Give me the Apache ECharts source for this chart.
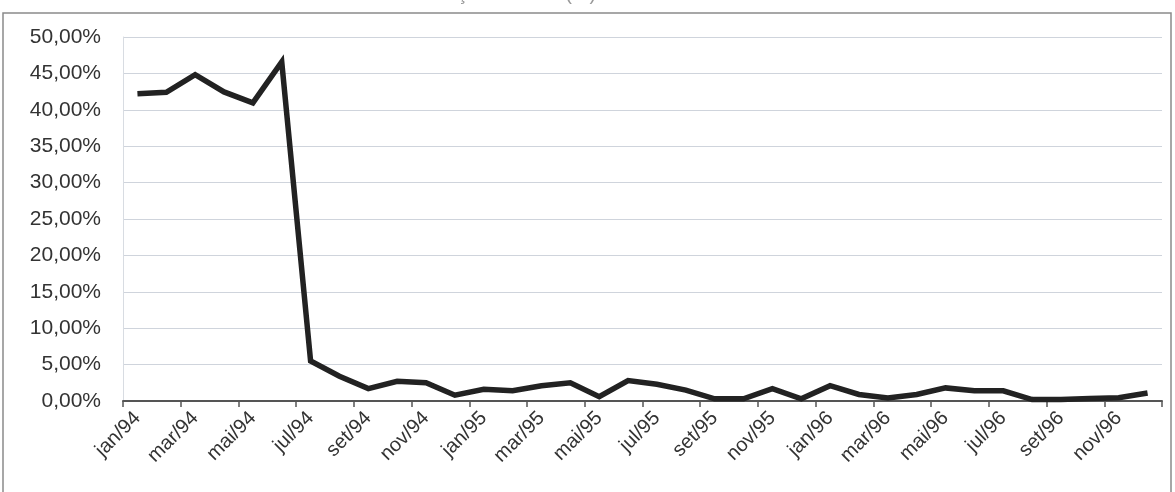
<!DOCTYPE html>
<html>
<head>
<meta charset="utf-8">
<script src="https://cdn.jsdelivr.net/npm/echarts@6/dist/echarts.min.js"></script>
<style>
  html, body { margin: 0; padding: 0; background: #fff; }
  #chart { width: 1175px; height: 492px; }
</style>
</head>
<body>
<div id="chart"></div>
<script>
// Monthly rate, jan/94 – dez/96
const months = [
  'jan/94','fev/94','mar/94','abr/94','mai/94','jun/94','jul/94','ago/94','set/94','out/94','nov/94','dez/94',
  'jan/95','fev/95','mar/95','abr/95','mai/95','jun/95','jul/95','ago/95','set/95','out/95','nov/95','dez/95',
  'jan/96','fev/96','mar/96','abr/96','mai/96','jun/96','jul/96','ago/96','set/96','out/96','nov/96','dez/96'
];
const rate94 = [42.19, 42.41, 44.83, 42.46, 40.95, 46.58, 5.5, 3.4, 1.7, 2.7, 2.5, 0.8];
const rate95 = [1.6, 1.4, 2.1, 2.5, 0.6, 2.8, 2.3, 1.5, 0.3, 0.3, 1.7, 0.3];
const rate96 = [2.1, 0.9, 0.4, 0.9, 1.8, 1.4, 1.4, 0.2, 0.2, 0.35, 0.45, 1.1];
const yTicks = { min: 0, max: 50, step: 5 };
const titleText = 'Taxa de inflação mensal (%)';

const values = rate94.concat(rate95, rate96);

const chart = echarts.init(document.getElementById('chart'), null, { renderer: 'canvas' });
const font = 'Liberation Sans, Arial, sans-serif';

chart.setOption({
  animation: false,
  backgroundColor: '#ffffff',
  graphic: [
    {
      type: 'rect',
      shape: { x: 3, y: 13, width: 1168, height: 490 },
      style: { fill: 'none', stroke: '#8a8a8a', lineWidth: 1.5 },
      silent: true
    },
    {
      type: 'text',
      left: 345, top: -16,
      style: { text: titleText, font: '20px ' + font, fill: '#999' },
      silent: true
    }
  ],
  grid: { left: 123, right: 13, top: 37, bottom: 91, containLabel: false },
  xAxis: {
    type: 'category',
    data: months,
    boundaryGap: true,
    axisLine: { show: true, lineStyle: { color: '#555', width: 2 } },
    axisTick: { show: true, interval: 1, length: 6, lineStyle: { color: '#555', width: 1.5 } },
    axisLabel: {
      interval: 1, rotate: 45, margin: 14,
      fontFamily: font, fontSize: 20, color: '#333'
    },
    splitLine: { show: false }
  },
  yAxis: {
    type: 'value',
    min: yTicks.min, max: yTicks.max, interval: yTicks.step,
    axisLine: { show: true, lineStyle: { color: '#d8dce2', width: 1 } },
    axisTick: { show: false },
    axisLabel: {
      margin: 22, fontFamily: font, fontSize: 21, color: '#333',
      formatter: v => v.toFixed(2).replace('.', ',') + '%'
    },
    splitLine: { show: true, lineStyle: { color: '#cfd4dc', width: 1.2 } }
  },
  series: [{
    type: 'line',
    data: values,
    symbol: 'none',
    lineStyle: { color: '#222', width: 5.5, join: 'miter' },
    z: 5
  }]
});
</script>
</body>
</html>
